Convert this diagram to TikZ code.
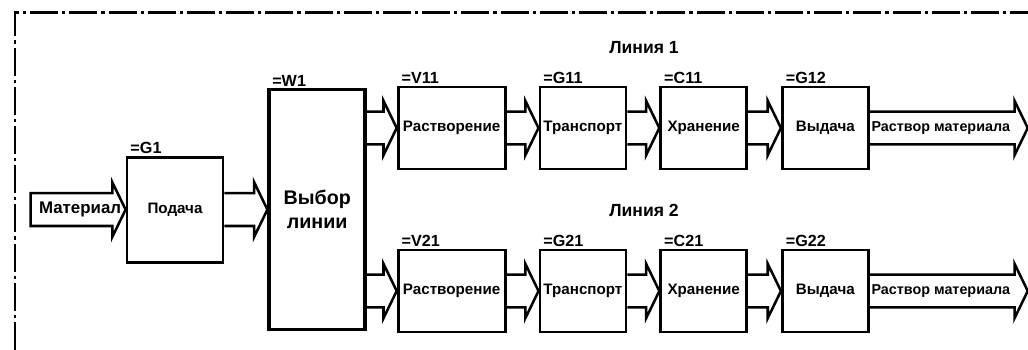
\documentclass[tikz,border=0pt]{standalone}
\usepackage{fontspec}
\setmainfont{Liberation Sans}
\usetikzlibrary{calc,positioning}

\begin{document}
\begin{tikzpicture}[
      node distance=0.8cm,
      unit/.style={
          rectangle, draw, line width=2pt,
          align=center,
          minimum width=2.15cm,
          minimum height=2.05cm,
          inner sep=1pt,
          font=\bfseries\fontsize{10.8}{12}\selectfont
        },
      tag/.style={anchor=south west, xshift=0.08cm, inner sep=1pt,
          font=\bfseries\fontsize{11.5}{12}\selectfont},
      linetitle/.style={inner sep=1pt, font=\bfseries\fontsize{12.5}{14}\selectfont},
      flowtext/.style={inner sep=0pt, font=\bfseries\fontsize{10.2}{12}\selectfont},
      % hollow block arrow: shaft, flared head, tip on the target
      flow/.style={line width=1.8pt,
          to path={($(\tikztostart)+(0,0.41)$) -- ($(\tikztotarget)+(-0.33,0.41)$)
              -- ++(0,0.27) -- (\tikztotarget) -- ($(\tikztotarget)+(-0.33,-0.68)$)
              -- ++(0,0.27) -- ($(\tikztostart)+(0,-0.41)$)}},
      flow closed/.style={flow,
          to path={($(\tikztostart)+(0,0.41)$) -- ($(\tikztotarget)+(-0.33,0.41)$)
              -- ++(0,0.27) -- (\tikztotarget) -- ($(\tikztotarget)+(-0.33,-0.68)$)
              -- ++(0,0.27) -- ($(\tikztostart)+(0,-0.41)$) -- cycle}},
      frame/.style={line width=2pt, dash pattern=on 0.7cm off 0.1cm on 0.08cm off 0.1cm},
    ]
    \useasboundingbox (0,0) rectangle (25.7,8.75);
    \draw[frame] (0.375,0) -- (0.375,8.44) -- (25.7,8.44);

    % feed and line selection
    \node[unit, minimum width=2.4cm, minimum height=2.625cm] (feed) at (4.375,3.51) {Подача};
    \node[unit, line width=2.6pt, minimum width=2.4cm, minimum height=6cm,
      right=1.075cm of feed, font=\bfseries\fontsize{14}{17}\selectfont] (select) {Выбор\\линии};

    % line 1
    \node[unit, minimum width=2.675cm] (v11) at (11.29,5.55) {Растворение};
    \node[unit, right=of v11] (g11) {Транспорт};
    \node[unit, right=of g11] (c11) {Хранение};
    \node[unit, right=0.82cm of c11] (g12) {Выдача};

    % line 2
    \node[unit, minimum width=2.675cm] (v21) at (11.29,1.475) {Растворение};
    \node[unit, right=of v21] (g21) {Транспорт};
    \node[unit, right=of g21] (c21) {Хранение};
    \node[unit, right=0.82cm of c21] (g22) {Выдача};

    \node[tag] at (feed.north west) {=G1};
    \node[tag] at (select.north west) {=W1};
    \node[tag] at (v11.north west) {=V11};
    \node[tag] at (g11.north west) {=G11};
    \node[tag] at (c11.north west) {=C11};
    \node[tag] at (g12.north west) {=G12};
    \node[tag] at (v21.north west) {=V21};
    \node[tag] at (g21.north west) {=G21};
    \node[tag] at (c21.north west) {=C21};
    \node[tag] at (g22.north west) {=G22};

    \node[linetitle] (line1) at (16.1,7.55) {Линия 1};
    \node[linetitle] (line2) at (16.1,3.5) {Линия 2};

    % arrows
    \coordinate (in) at ($(feed.west)+(-2.375,0)$);
    \coordinate (s1) at (select.east |- v11.west);
    \coordinate (s2) at (select.east |- v21.west);
    \coordinate (out1) at ($(g12.east)+(3.95,0)$);
    \coordinate (out2) at ($(g22.east)+(3.95,0)$);

    \draw[flow closed] (in) to (feed.west);
    \node[flowtext, font=\bfseries\fontsize{12}{14}\selectfont] (inlbl)
      at ($(in)!0.5!(feed.west)+(0.05,0)$) {Материал};
    \draw[flow] (feed.east) to (select.west |- feed.east);
    \draw[flow] (s1) to (v11.west);
    \draw[flow] (s2) to (v21.west);
    \draw[flow] (v11.east) to (g11.west);
    \draw[flow] (g11.east) to (c11.west);
    \draw[flow] (c11.east) to (g12.west);
    \draw[flow] (v21.east) to (g21.west);
    \draw[flow] (g21.east) to (c21.west);
    \draw[flow] (c21.east) to (g22.west);
    \draw[flow] (g12.east) to (out1);
    \draw[flow] (g22.east) to (out2);
    \node[flowtext] (outlbl1) at ($(g12.east)!0.45!(out1)$) {Раствор материала};
    \node[flowtext] (outlbl2) at ($(g22.east)!0.45!(out2)$) {Раствор материала};
  \end{tikzpicture}
\end{document}
